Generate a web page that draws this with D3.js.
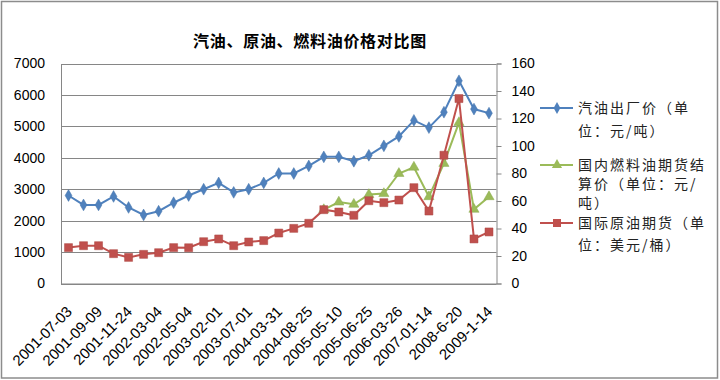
<!DOCTYPE html>
<html><head><meta charset="utf-8">
<script src="https://cdn.jsdelivr.net/npm/d3@7"></script>
<style>
body{margin:0;background:#fff;}
svg{display:block;}
</style></head>
<body>
<svg id="chart" width="720" height="380"></svg>
<script>
// ---- data ----
const title = "汽油、原油、燃料油价格对比图";
const categories = d3.range(29); // 29 observation points
const tickLabels = ["2001-07-03","2001-09-09","2001-11-24","2002-03-04","2002-05-04","2003-02-01","2003-07-01","2004-03-31","2004-08-25","2005-05-10","2005-06-25","2006-03-26","2007-01-14","2008-6-20","2009-1-14"];
const gasoline = [2800,2500,2500,2770,2420,2180,2300,2570,2800,3000,3200,2900,3000,3200,3500,3500,3740,4030,4030,3890,4080,4380,4680,5190,4960,5450,6450,5550,5420];
const fuelOil = [null,null,null,null,null,null,null,null,null,null,null,null,null,null,null,null,null,2350,2590,2520,2830,2860,3500,3700,2760,3820,5120,2360,2760];
const crude = [26.1,27.5,27.5,21.7,19.0,21.2,22.4,26.1,26.0,30.4,32.4,27.5,30.2,31.2,36.7,40.1,43.8,53.7,52.0,49.6,60.2,58.8,60.7,69.7,52.7,93.3,134.5,32.4,37.5];
const leftTicks = [0,1000,2000,3000,4000,5000,6000,7000];
const rightTicks = [0,20,40,60,80,100,120,140,160];
const legendItems = [
  {name:["汽油出厂价（单","位：元/吨）"], color:"#4F81BD", shape:"diamond"},
  {name:["国内燃料油期货结","算价（单位：元/","吨）"], color:"#9BBB59", shape:"triangle"},
  {name:["国际原油期货（单","位：美元/桶）"], color:"#C0504D", shape:"square"}
];

// ---- layout ----
const svg = d3.select("#chart");
const L = 61, R = 496.5, T = 63.5, B = 283.5;
const grey = "#868686";
const numFont = "'Liberation Sans', Arial, sans-serif";
const cjkFont = "'Noto Sans CJK SC', sans-serif";

svg.append("rect").attr("x",1.5).attr("y",1.5).attr("width",716).attr("height",376.5)
  .attr("fill","#fff").attr("stroke","#8c8c8c").attr("stroke-width",1.5);

const x = d3.scalePoint().domain(categories).range([L,R]).padding(0.5);
const yL = d3.scaleLinear().domain([0,7000]).range([B,T]);
const yR = d3.scaleLinear().domain([0,160]).range([B,T]);

// gridlines
svg.append("g").selectAll("line").data(leftTicks).join("line")
  .attr("x1",L).attr("x2",R).attr("y1",d=>Math.round(yL(d))+0.5).attr("y2",d=>Math.round(yL(d))+0.5)
  .attr("stroke",grey).attr("stroke-width",1);

// left axis
const gL = svg.append("g").attr("transform",`translate(${L},0)`)
  .call(d3.axisLeft(yL).tickValues(leftTicks).tickSize(0).tickPadding(16).tickFormat(d3.format("d")));
gL.select(".domain").attr("stroke",grey);
gL.selectAll("text").attr("font-family",numFont).attr("font-size",14).attr("fill","#000");

// right axis
const gR = svg.append("g").attr("transform",`translate(${R},0)`)
  .call(d3.axisRight(yR).tickValues(rightTicks).tickSize(5).tickPadding(10).tickFormat(d3.format("d")));
gR.select(".domain").attr("stroke",grey);
gR.selectAll("line").attr("stroke",grey);
gR.selectAll("text").attr("font-family",numFont).attr("font-size",14).attr("fill","#000");

// bottom axis
const gB = svg.append("g").attr("transform",`translate(0,${B})`)
  .call(d3.axisBottom(x).tickValues(categories.filter(i=>i%2===0)).tickSize(0).tickFormat(i=>tickLabels[i/2]));
gB.select(".domain").attr("stroke",grey);
gB.selectAll("text").attr("font-family",numFont).attr("font-size",15).attr("fill","#000")
  .attr("text-anchor","end").attr("dy",0).attr("y",0)
  .attr("transform","translate(4,29) rotate(-45)");

// lines
function drawSeries(vals, scale, color, shape){
  const data = vals.map((v,i)=>({i,v})).filter(d=>d.v!=null);
  const g = svg.append("g");
  g.append("path").datum(data)
    .attr("d", d3.line().x(d=>x(d.i)).y(d=>scale(d.v)))
    .attr("fill","none").attr("stroke",color).attr("stroke-width",2);
  const sym = shape==="diamond"? d3.symbolDiamond : shape==="square"? d3.symbolSquare : d3.symbolTriangle;
  const size = shape==="diamond"? 40 : shape==="square"? 64 : 45;
  g.selectAll("path.m").data(data).join("path").attr("class","m")
    .attr("transform",d=>`translate(${x(d.i)},${scale(d.v)})`)
    .attr("d", d3.symbol(sym,size)).attr("fill",color).attr("stroke",d3.color(color).darker(0.3)).attr("stroke-width",0.5);
}
drawSeries(gasoline, yL, "#4F81BD", "diamond");
drawSeries(fuelOil, yL, "#9BBB59", "triangle");
drawSeries(crude, yR, "#C0504D", "square");

// title
svg.append("text").attr("x",310).attr("y",41).attr("dy","0.36em").attr("text-anchor","middle")
  .attr("font-family",cjkFont).attr("font-weight","bold").attr("font-size",16).attr("letter-spacing",0.7)
  .attr("fill","#000").text(title);

// legend
const legY = [108,165,223];
const legSpacing = [22.5,19,22];
legendItems.forEach((it,k)=>{
  const g = svg.append("g").attr("transform",`translate(0,${legY[k]})`);
  g.append("line").attr("x1",540).attr("x2",573).attr("y1",0).attr("y2",0).attr("stroke",it.color).attr("stroke-width",2);
  const sym = it.shape==="diamond"? d3.symbolDiamond : it.shape==="square"? d3.symbolSquare : d3.symbolTriangle;
  const size = it.shape==="diamond"? 40 : it.shape==="square"? 64 : 45;
  g.append("path").attr("transform","translate(557,0)").attr("d",d3.symbol(sym,size)).attr("fill",it.color);
  g.selectAll("text").data(it.name).join("text")
    .attr("x",578).attr("y",(d,j)=>j*legSpacing[k]).attr("dy","0.36em")
    .attr("font-family",cjkFont).attr("font-size",14).attr("letter-spacing",2).attr("fill","#222").text(d=>d);
});
</script>
</body></html>
